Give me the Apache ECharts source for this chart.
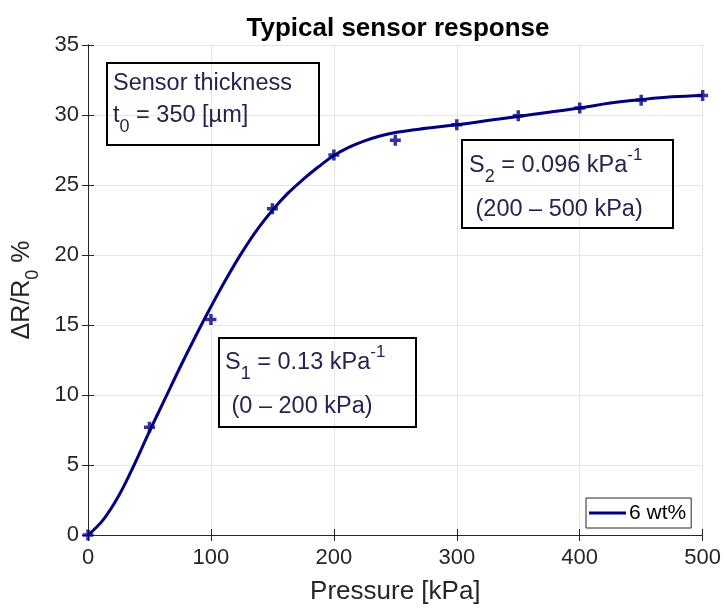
<!DOCTYPE html>
<html><head><meta charset="utf-8">
<script src="https://cdn.jsdelivr.net/npm/echarts@6/dist/echarts.min.js"></script>
<style>html,body{margin:0;padding:0;background:#fff}#c{width:724px;height:610px}</style>
</head><body><div id="c"></div>
<script>
// measured data points (+ markers)
const markerX = [0, 50, 100, 150, 200, 250, 300, 350, 400, 450, 500];
const markerY = [0, 7.7, 15.4, 23.3, 27.15, 28.2, 29.3, 29.95, 30.5, 31.05, 31.4];
// fitted curve
const curveX = [0, 12.5, 25, 37.5, 50, 62.5, 75, 87.5, 100, 112.5, 125, 137.5, 150, 162.5, 175, 187.5, 200, 212.5, 225, 237.5, 250, 275, 300, 325, 350, 375, 400, 425, 450, 475, 500];
const curveY = [0, 1.1, 2.8, 5.0, 7.4, 9.7, 12.0, 14.2, 16.3, 18.3, 20.15, 21.8, 23.2, 24.4, 25.4, 26.3, 27.1, 27.7, 28.15, 28.5, 28.75, 29.05, 29.3, 29.6, 29.9, 30.2, 30.5, 30.85, 31.1, 31.3, 31.4];
const seriesName = '6 wt%';
const titleText = 'Typical sensor response';
const xName = 'Pressure [kPa]';

const FONT = "'Liberation Sans', Arial, Helvetica, sans-serif";
const AX = '#262626';
const LINE = '#000080';
const TXT = '#24244f';

const chart = echarts.init(document.getElementById('c'), null, {renderer: 'canvas'});

const axisCommon = {
  axisLine: {show: true, lineStyle: {color: AX, width: 1}},
  axisTick: {show: true, inside: true, length: 6, lineStyle: {color: AX}},
};

const plus = 'path://M3.4,0H6.6V3.4H10V6.6H6.6V10H3.4V6.6H0V3.4H3.4Z';

function mainRich(size) {
  return {
    n: {fontFamily: FONT, fontSize: size, color: TXT, lineHeight: 40, verticalAlign: 'middle'},
    s: {fontFamily: FONT, fontSize: 18, color: TXT, lineHeight: 40, verticalAlign: 'bottom'},
    p: {fontFamily: FONT, fontSize: 17, color: TXT, lineHeight: 40, verticalAlign: 'top', padding: [1, 0, 0, 0]}
  };
}
function label(x, y, text, size) {
  return {type: 'text', x: x, y: y, z: 100,
    style: {text: text, rich: mainRich(size), verticalAlign: 'middle', align: 'left', fontFamily: FONT, fontSize: size, fill: TXT}};
}
function box(x, y, w, h) {
  return {type: 'rect', z: 100, shape: {x: x, y: y, width: w, height: h},
    style: {fill: 'none', stroke: '#000', lineWidth: 2}};
}

chart.setOption({
  animation: false,
  backgroundColor: '#fff',
  title: {text: titleText, left: 393, top: 11, textAlign: 'center',
    textStyle: {fontFamily: FONT, fontWeight: 'bold', fontSize: 26, color: '#000'}},
  grid: {left: 88, right: 19, top: 45, bottom: 70, containLabel: false},
  legend: {
    data: [{name: seriesName, icon: 'rect'}], left: 586, top: 498, orient: 'vertical',
    itemWidth: 37, itemHeight: 3, itemGap: 0,
    padding: [4, 5, 4, 3], borderColor: AX, borderWidth: 1, backgroundColor: '#fff',
    textStyle: {fontFamily: FONT, fontSize: 21, color: '#000', padding: [0, 0, 0, -2], lineHeight: 22}
  },
  xAxis: [
    Object.assign({type: 'value', min: 0, max: 500, interval: 100, position: 'bottom',
      name: xName, nameLocation: 'middle', nameGap: 44,
      nameTextStyle: {fontFamily: FONT, fontSize: 26, color: AX},
      axisLabel: {fontFamily: FONT, fontSize: 22, color: AX, margin: 12},
      splitLine: {show: true, lineStyle: {color: '#e6e6e6', width: 1}}}, axisCommon),
    Object.assign({type: 'value', min: 0, max: 500, interval: 100, position: 'top',
      axisLabel: {show: false}, splitLine: {show: false}}, axisCommon)
  ],
  yAxis: [
    Object.assign({type: 'value', min: 0, max: 35, interval: 5, position: 'left',
      name: '{n|ΔR/R}{s|0}{n| %}', nameLocation: 'middle', nameGap: 46, nameRotate: 90,
      nameTextStyle: {fontFamily: FONT, fontSize: 25, color: AX,
        rich: {
          n: {fontFamily: FONT, fontSize: 25, color: AX, lineHeight: 40, verticalAlign: 'middle'},
          s: {fontFamily: FONT, fontSize: 18, color: AX, lineHeight: 40, verticalAlign: 'bottom'}
        }},
      axisLabel: {fontFamily: FONT, fontSize: 22, color: AX, margin: 9},
      splitLine: {show: true, lineStyle: {color: '#e6e6e6', width: 1}}}, axisCommon),
    Object.assign({type: 'value', min: 0, max: 35, interval: 5, position: 'right',
      axisLabel: {show: false}, splitLine: {show: false}}, axisCommon)
  ],
  series: [
    {name: seriesName, type: 'line', xAxisIndex: 0, yAxisIndex: 0,
      data: curveX.map((x, i) => [x, curveY[i]]),
      smooth: 0.4, symbol: 'none', lineStyle: {color: LINE, width: 3}, itemStyle: {color: LINE}, z: 3},
    {name: 'points', type: 'scatter', xAxisIndex: 0, yAxisIndex: 0,
      data: markerX.map((x, i) => [x, markerY[i]]),
      symbol: plus, symbolSize: 11, itemStyle: {color: LINE}, clip: false, z: 4}
  ],
  graphic: [
    box(107, 63, 212, 82),
    label(113, 84, '{n|Sensor thickness}', 23.5),
    label(113, 116, '{n|t}{s|0}{n| = 350 [µm]}', 23.5),
    box(462, 140, 211, 88),
    label(469, 166, '{n|S}{s|2}{n| = 0.096 kPa}{p|-1}', 23.5),
    label(469, 210, '{n| (200 – 500 kPa)}', 23.5),
    box(219, 338, 197, 89),
    label(225, 363, '{n|S}{s|1}{n| = 0.13 kPa}{p|-1}', 23.5),
    label(225, 407, '{n| (0 – 200 kPa)}', 23.5)
  ]
});
</script></body></html>
